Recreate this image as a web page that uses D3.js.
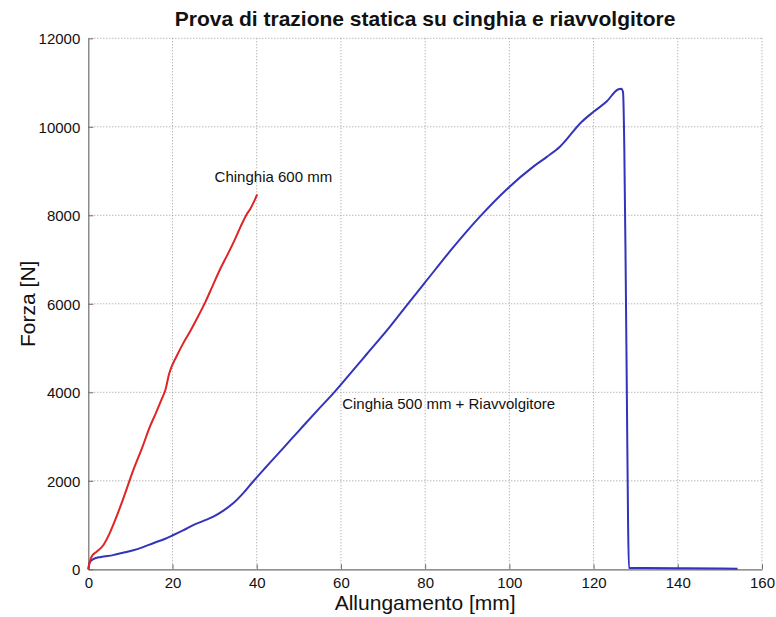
<!DOCTYPE html>
<html>
<head>
<meta charset="utf-8">
<script src="https://cdn.jsdelivr.net/npm/d3@7"></script>
<style>
  html, body { margin: 0; padding: 0; background: #fff; }
  svg { display: block; font-family: "Liberation Sans", Arial, sans-serif; }
</style>
</head>
<body>
<svg id="chart" width="776" height="617"></svg>
<script>
// Axis ticks
const xTicks = [0, 20, 40, 60, 80, 100, 120, 140, 160];
const yTicks = [0, 2000, 4000, 6000, 8000, 10000, 12000];

// Belt 600 mm: elongation [mm], force [N]
const beltX = [0, 0.3, 0.8, 2, 3.6, 5, 6.7, 8.5, 10.7, 12.8, 14.7, 16, 17.4, 18.3, 19.2, 21, 22.5, 24.2, 26, 27.7, 29.5, 31.3, 33, 34.8, 36.2, 37.6, 38.5, 39.2, 40.1];
const beltF = [0, 150, 290, 400, 550, 800, 1190, 1650, 2245, 2750, 3240, 3520, 3840, 4050, 4420, 4820, 5100, 5380, 5700, 6020, 6400, 6780, 7100, 7450, 7750, 8020, 8150, 8280, 8470];

// Belt 500 mm + retractor: elongation [mm], force [N]
const retrX = [0, 0.3, 1.2, 3, 5.9, 8, 10.7, 13, 15.4, 18, 20.2, 22.5, 24.9, 27.5, 29.7, 32, 34.4, 36.8, 39.2, 42, 46.3, 50, 54.2, 58.5, 62, 66.1, 71.7, 76, 80.2, 86.7, 93, 99.4, 105.7, 108.9, 112, 117.2, 120, 123.1, 125.9, 126.6, 127, 127.3, 127.6, 127.9, 128.2, 128.4, 140, 150, 154.2];
const retrF = [0, 150, 230, 280, 320, 370, 430, 500, 590, 680, 775, 880, 1000, 1100, 1190, 1320, 1490, 1720, 1990, 2290, 2740, 3130, 3570, 4010, 4400, 4860, 5490, 6010, 6510, 7280, 7970, 8590, 9100, 9320, 9550, 10115, 10340, 10570, 10850, 10860, 10780, 9500, 7000, 4000, 1000, 30, 25, 20, 15];

const title = "Prova di trazione statica su cinghia e riavvolgitore";
const xLabel = "Allungamento [mm]";
const yLabel = "Forza [N]";

const W = 776, H = 617;
const m = { top: 38.3, right: 14, bottom: 47.7, left: 88.3 };
const iw = W - m.left - m.right, ih = H - m.top - m.bottom;

const svg = d3.select("#chart");
const g = svg.append("g").attr("transform", `translate(${m.left},${m.top})`);

const x = d3.scaleLinear().domain([0, 160]).range([0, iw]);
const y = d3.scaleLinear().domain([0, 12000]).range([ih, 0]);

// Dotted grid
g.append("g").selectAll("line").data(xTicks.filter(d => d > 0)).join("line")
  .attr("x1", d => x(d)).attr("x2", d => x(d)).attr("y1", 0).attr("y2", ih)
  .attr("stroke", "#9a9a9a").attr("stroke-width", 1).attr("stroke-dasharray", "1,2");
g.append("g").selectAll("line").data(yTicks.filter(d => d > 0)).join("line")
  .attr("y1", d => y(d)).attr("y2", d => y(d)).attr("x1", 0).attr("x2", iw)
  .attr("stroke", "#9a9a9a").attr("stroke-width", 1).attr("stroke-dasharray", "1,2");

// Axes with inward ticks
const fmt = d3.format("d");
const xAxis = g.append("g").attr("transform", `translate(0,${ih})`)
  .call(d3.axisBottom(x).tickValues(xTicks).tickFormat(fmt).tickSize(-5).tickPadding(8).tickSizeOuter(0));
const yAxis = g.append("g")
  .call(d3.axisLeft(y).tickValues(yTicks).tickFormat(fmt).tickSize(-5).tickPadding(8).tickSizeOuter(0));
[xAxis, yAxis].forEach(a => {
  a.select(".domain").attr("stroke", "#6e6e6e").attr("stroke-width", 1.2);
  a.selectAll(".tick line").attr("stroke", "#6e6e6e");
  a.selectAll(".tick text").attr("fill", "#111").style("font-size", "15px")
    .style("font-family", "'Liberation Sans', Arial, sans-serif");
});
yAxis.selectAll(".tick text").attr("dy", "0.35em");

// Curves
const line = d3.line().x(d => x(d[0])).y(d => y(d[1])).curve(d3.curveMonotoneX);
g.append("path").datum(retrX.map((v, i) => [v, retrF[i]]))
  .attr("d", line).attr("fill", "none").attr("stroke", "#3333bb")
  .attr("stroke-width", 2).attr("stroke-linejoin", "round");
g.append("path").datum(beltX.map((v, i) => [v, beltF[i]]))
  .attr("d", line).attr("fill", "none").attr("stroke", "#e02424")
  .attr("stroke-width", 2).attr("stroke-linejoin", "round");

// Curve annotations
g.append("text").attr("x", x(30)).attr("y", y(8880)).attr("dy", "0.35em")
  .style("font-size", "15px").attr("fill", "#111").text("Chinghia 600 mm");
g.append("text").attr("x", x(60.3)).attr("y", y(3730)).attr("dy", "0.35em")
  .style("font-size", "15px").attr("fill", "#111").text("Cinghia 500 mm + Riavvolgitore");

// Title and axis labels
svg.append("text").attr("x", m.left + iw / 2).attr("y", 26).attr("text-anchor", "middle")
  .style("font-size", "21px").style("font-weight", "bold").attr("fill", "#111").text(title);
svg.append("text").attr("x", m.left + iw / 2).attr("y", 610).attr("text-anchor", "middle")
  .style("font-size", "21px").attr("fill", "#111").text(xLabel);
svg.append("text").attr("transform", `translate(35,${m.top + ih / 2}) rotate(-90)`)
  .attr("text-anchor", "middle").style("font-size", "21px").attr("fill", "#111").text(yLabel);
</script>
</body>
</html>
